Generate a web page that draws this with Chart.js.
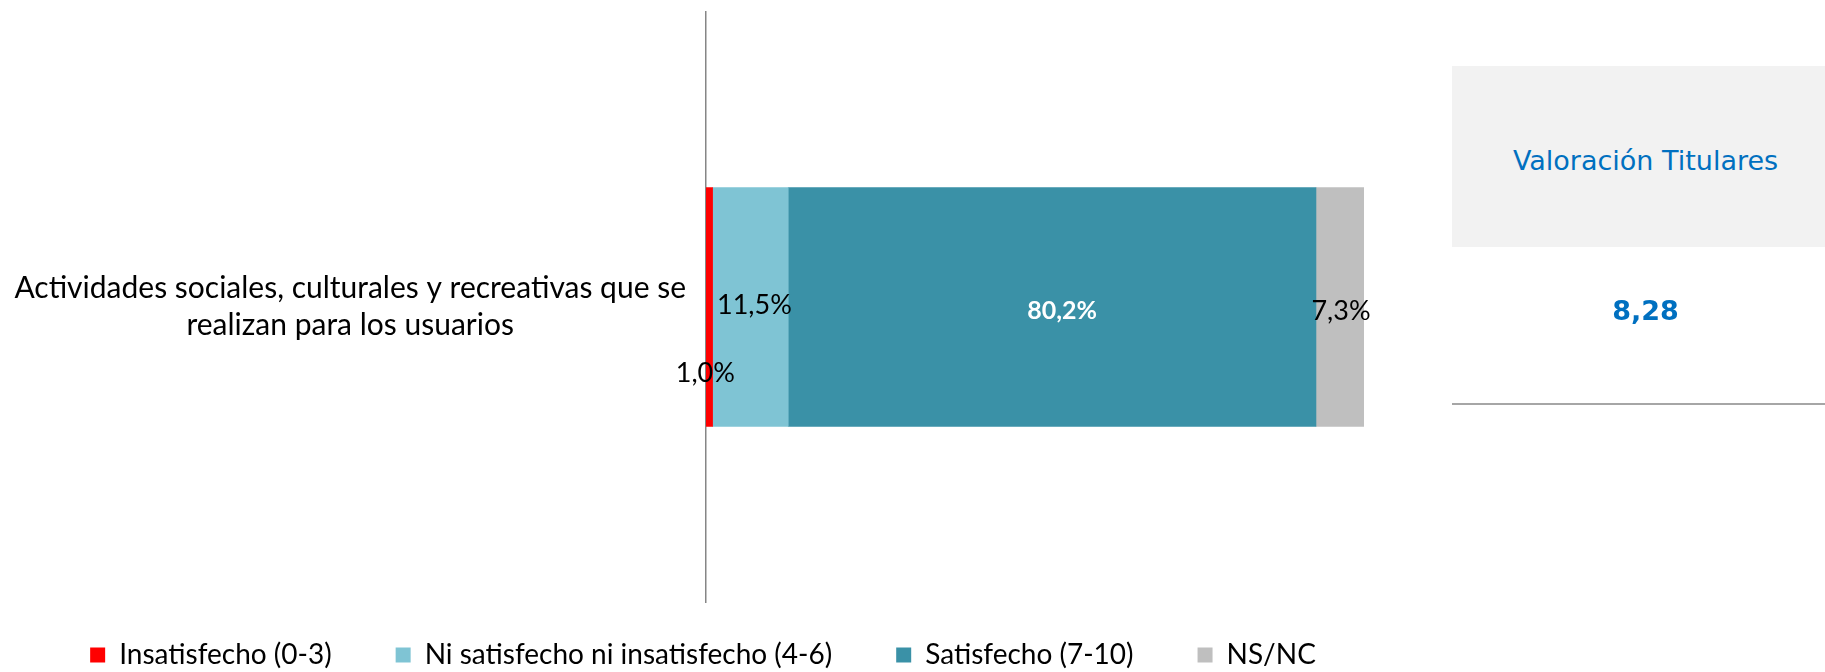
<!DOCTYPE html>
<html>
<head>
<meta charset="utf-8">
<script src="https://cdn.jsdelivr.net/npm/chart.js@4"></script>
<style>
  body { margin: 0; background: #fff; }
  #wrap { position: relative; width: 1825px; height: 672px; }
  #panelHead {
    position: absolute; left: 1452px; top: 66px; width: 373px; height: 181px;
    box-sizing: border-box; padding-top: 8px; padding-left: 14px;
    background: #f2f2f2; color: #0070c0;
    font: 27px "DejaVu Sans", sans-serif;
    display: flex; align-items: center; justify-content: center;
  }
  #panelValue {
    position: absolute; left: 1452px; top: 247px; width: 373px; height: 158px;
    box-sizing: border-box; padding-bottom: 30px; padding-left: 14px;
    border-bottom: 2px solid #a6a6a6; color: #0070c0;
    font: bold 27px "DejaVu Sans", sans-serif;
    display: flex; align-items: center; justify-content: center;
  }
</style>
</head>
<body>
<div id="wrap">
  <canvas id="satisChart" width="1825" height="672"></canvas>
  <div id="panelHead"></div>
  <div id="panelValue"></div>
</div>
<script>
// satisfaccion - actividades sociales

// --------------------
// data
// --------------------
const categories = [["Actividades sociales, culturales y recreativas que se", "realizan para los usuarios"]];
const seriesNames = ["Insatisfecho (0-3)", "Ni satisfecho ni insatisfecho (4-6)", "Satisfecho (7-10)", "NS/NC"];
const insatisfecho = [1.0];
const niSatisfecho = [11.5];
const satisfecho = [80.2];
const nsnc = [7.3];
const panelTitle = "Valoración Titulares";
const valoracion = [8.28];

const fmt = v => v.toFixed(1).replace(".", ",") + "%";
const fontFamily = "Lato, sans-serif";

document.getElementById("panelHead").textContent = panelTitle;
document.getElementById("panelValue").textContent = valoracion[0].toFixed(2).replace(".", ",");

// --------------------
// labels inside the bars
// --------------------
const barLabels = {
    id: "barLabels",
    afterDatasetsDraw(chart) {
        const ctx = chart.ctx;
        chart.data.datasets.forEach((ds, i) => {
            chart.getDatasetMeta(i).data.forEach((bar, j) => {
                ctx.save();
                ctx.font = (ds.labelBold ? "bold 25px " : "27px ") + fontFamily;
                ctx.fillStyle = ds.labelColor;
                ctx.textAlign = "center";
                ctx.textBaseline = "middle";
                ctx.fillText(fmt(ds.data[j]), (bar.x + bar.base) / 2 + ds.labelDx, bar.y + ds.labelDy);
                ctx.restore();
            });
        });
    }
};

// legend: wide item spacing but a short box, nudged right
const legendFit = {
    id: "legendFit",
    beforeInit(chart) {
        const fit = chart.legend.fit;
        chart.legend.fit = function () {
            fit.call(this);
            this.height = 70;
        };
    },
    afterLayout(chart) {
        chart.legend.left += 21;
        chart.legend.right += 21;
        chart.legend.top -= 25;
        chart.legend.height += 25;
    }
};

new Chart(document.getElementById("satisChart"), {
    type: "bar",
    data: {
        labels: categories,
        datasets: [
            { label: seriesNames[0], data: insatisfecho, backgroundColor: "#ff0000", labelColor: "#000", labelDx: -4, labelDy: 66 },
            { label: seriesNames[1], data: niSatisfecho, backgroundColor: "#7fc4d4", labelColor: "#000", labelDx: 4, labelDy: -2 },
            { label: seriesNames[2], data: satisfecho, backgroundColor: "#3a91a7", labelColor: "#fff", labelBold: true, labelDx: 10, labelDy: 4 },
            { label: seriesNames[3], data: nsnc, backgroundColor: "#bfbfbf", labelColor: "#000", labelDx: 1, labelDy: 4 }
        ]
    },
    options: {
        indexAxis: "y",
        responsive: false,
        animation: false,
        barThickness: 239,
        layout: {
            padding: { left: 0, right: 461, top: 12, bottom: 0 }
        },
        plugins: {
            legend: {
                position: "bottom",
                labels: {
                    boxWidth: 15,
                    boxHeight: 15,
                    padding: 64,
                    color: "#000",
                    font: { family: fontFamily, size: 28 }
                }
            },
            tooltip: { enabled: false }
        },
        scales: {
            x: {
                stacked: true,
                min: 0,
                max: 100,
                display: false
            },
            y: {
                stacked: true,
                grid: { display: false },
                border: { display: true, color: "#868686", width: 1.5 },
                ticks: {
                    crossAlign: "center",
                    padding: 12,
                    color: "#000",
                    font: { family: fontFamily, size: 30, lineHeight: 1.23 }
                },
                afterFit(scale) {
                    scale.width = 706;
                    scale.paddingTop = 0;
                    scale.paddingBottom = 0;
                }
            }
        }
    },
    plugins: [barLabels, legendFit]
});
// end
</script>
</body>
</html>
